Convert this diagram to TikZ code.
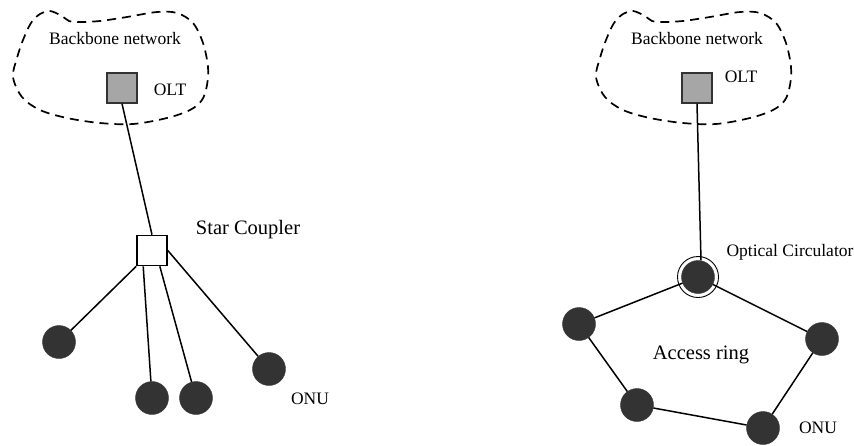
\documentclass[tikz,border=0pt]{standalone}
\usepackage{fontspec}
\setmainfont{Liberation Serif}
\definecolor{onugray}{HTML}{333333}
\definecolor{oltgray}{HTML}{A6A6A6}
\begin{document}
\begin{tikzpicture}[x=1pt,y=-1pt,
  onu/.style={circle,fill=onugray,draw=onugray,minimum size=33pt,inner sep=0pt},
  olt/.style={rectangle,fill=oltgray,draw=black!80,line width=1.3pt,minimum size=30pt,inner sep=0pt},
  coupler/.style={rectangle,fill=white,draw=black,line width=1.6pt,minimum size=30pt,inner sep=0pt},
  ring/.style={circle,draw=black,line width=0.9pt,minimum size=41pt,inner sep=0pt},
  link/.style={line width=1.5pt},
  cloudline/.style={dash pattern=on 9pt off 6pt,line width=1.7pt},
  lbl/.style={inner sep=0pt,font=\fontsize{17.5}{20}\selectfont},
  biglbl/.style={inner sep=0pt,font=\fontsize{20.5}{24}\selectfont}]
\useasboundingbox (0,0) rectangle (854,445);

% clouds
\draw[cloudline] plot[smooth cycle,tension=0.55] coordinates {
 (40,14) (50,11) (62,16) (69,21) (80,22) (100,21) (127,17) (157,12) (177,13)
 (193,23) (203,43) (208,67) (207,85) (202,100) (190,110) (167,118) (133,124)
 (100,123) (67,118) (40,110) (22,97) (13,77) (17,58) (23,40) (31,23)};
\begin{scope}[xshift=583pt]
\draw[cloudline] plot[smooth cycle,tension=0.55] coordinates {
 (40,14) (50,11) (62,16) (69,21) (80,22) (100,21) (127,17) (157,12) (177,13)
 (193,23) (203,43) (208,67) (207,85) (202,100) (190,110) (167,118) (133,124)
 (100,123) (67,118) (40,110) (22,97) (13,77) (17,58) (23,40) (31,23)};
\end{scope}

% left: star topology
\node[lbl] (bbL) at (115,39) {Backbone network};
\node[olt] (oltL) at (122,88) {};
\node[lbl] (oltLt) at (170,90) {OLT};
\node[coupler] (coup) at (152,250.5) {};
\node[biglbl] (coupt) at (248,230) {Star Coupler};
\node[onu] (onuA) at (59,342) {};
\node[onu] (onuB) at (152,398) {};
\node[onu] (onuC) at (196,398) {};
\node[onu] (onuD) at (269,369) {};
\node[lbl] (onuLt) at (310,399) {ONU};

\draw[link] (oltL.south) -- (coup.north);
\draw[link] (coup.south west) -- (onuA);
\draw[link] ([xshift=7pt]coup.south west) -- (onuB);
\draw[link] ([xshift=-8pt]coup.south east) -- (onuC);
\draw[link] (coup.east) -- (onuD);

% right: ring topology
\node[lbl] (bbR) at (697,39) {Backbone network};
\node[olt] (oltR) at (697,88) {};
\node[lbl] (oltRt) at (741,77) {OLT};
\node[ring] (circring) at (698,277) {};
\node[onu] (circ) at (698,277) {};
\node[lbl] (circt) at (790,252) {Optical Circulator};
\node[onu] (r1) at (579,324) {};
\node[onu] (r2) at (637,405) {};
\node[onu] (r3) at (763,428) {};
\node[onu] (r4) at (822,339) {};
\node[biglbl] (acc) at (701,355) {Access ring};
\node[lbl] (onuRt) at (818,428) {ONU};

\draw[link] (oltR.south) -- ([xshift=3pt]circ.north);
\draw[link] (circ) -- (r1);
\draw[link] (r1) -- (r2);
\draw[link] (r2) -- (r3);
\draw[link] (r3) -- (r4);
\draw[link] (r4) -- (circ);
\end{tikzpicture}
\end{document}
